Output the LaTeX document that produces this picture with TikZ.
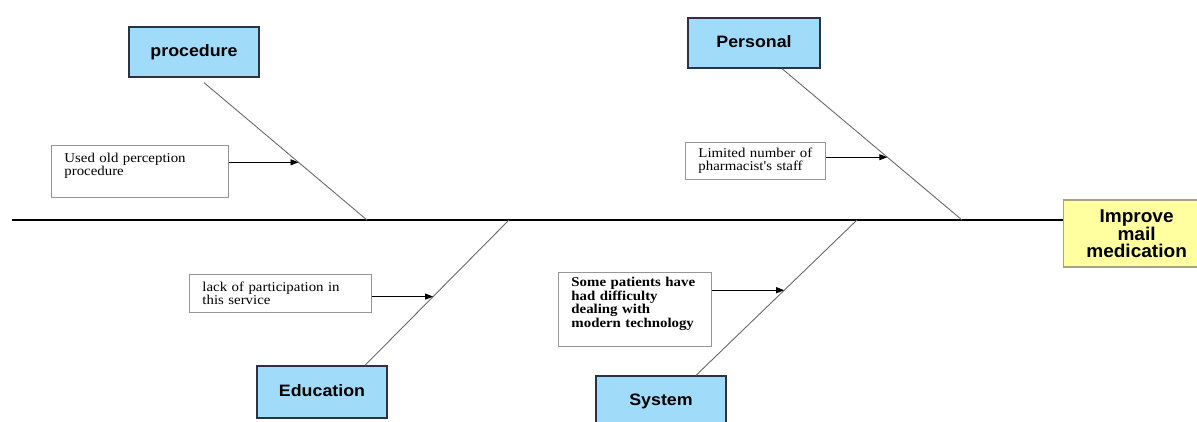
\documentclass[tikz,border=0pt]{standalone}
\usepackage{fontspec}
\usetikzlibrary{arrows.meta,calc}
\newfontfamily\lblfont[FakeStretch=1.08]{Liberation Sans}
\newfontfamily\impfont[FakeStretch=1.03]{Liberation Sans}
\newfontfamily\txtfont[FakeStretch=1.1]{Liberation Serif}
\definecolor{catblue}{RGB}{160,220,250}
\definecolor{catborder}{RGB}{45,50,65}
\definecolor{effyellow}{RGB}{255,255,160}
\definecolor{effborder}{RGB}{165,165,125}
\definecolor{causeborder}{RGB}{150,150,150}
\definecolor{bonegray}{RGB}{105,105,105}
\tikzset{
  cat/.style={draw=catborder, line width=1.3pt, fill=catblue, inner sep=0pt,
    font=\lblfont\bfseries\fontsize{16.5}{18}\selectfont, text height=12pt, text depth=3pt},
  effect/.style={draw=effborder, line width=1.2pt, fill=effyellow, inner sep=0pt, align=center,
    font=\impfont\bfseries\fontsize{18.5}{17}\selectfont},
  cause/.style={draw=causeborder, line width=0.9pt, fill=white, anchor=north west, align=left,
    inner xsep=13pt, inner ysep=5pt, font=\txtfont\fontsize{13.5}{13.5}\selectfont},
  bone/.style={draw=bonegray, line width=0.9pt},
  spine/.style={draw=black, line width=1.2pt},
  arr/.style={draw=black, line width=0.9pt, -{Triangle[length=8pt,width=6pt]}}
}
\begin{document}
\begin{tikzpicture}[x=1pt,y=-1pt]
\useasboundingbox (0,0) rectangle (1197,421);
% effect
\node[effect, minimum width=146pt, minimum height=67pt, anchor=west] (imp) at (1063,233.5) {Improve\\mail\\medication};
% categories
\node[cat, minimum width=130pt, minimum height=50pt] (proc) at (194,52) {procedure};
\node[cat, minimum width=132pt, minimum height=50pt] (pers) at (754,43) {Personal};
\node[cat, minimum width=130pt, minimum height=52pt] (edu) at (322,392) {Education};
\node[cat, minimum width=130pt, minimum height=50pt] (sys) at (661,401) {System};
% causes
\node[cause, text width=151pt, text height=12pt, text depth=30pt] (used) at (51,145) {Used old perception\\procedure};
\node[cause, text width=114pt, text height=10pt, text depth=17pt] (lim) at (685,142) {Limited number of\\pharmacist's staff};
\node[cause, text width=156pt, text height=12pt, text depth=16pt] (lack) at (189,274) {lack of participation in\\this service};
\node[cause, text width=127pt, text height=9pt, text depth=55pt, font=\txtfont\bfseries\fontsize{13.5}{13.6}\selectfont] (some) at (558,272) {Some patients have\\had difficulty\\dealing with\\modern technology};
% spine
\coordinate (sp0) at (12,220);
\draw[spine] (sp0) -- (sp0 -| imp.west);
% bones
\coordinate (b1s) at ($(proc.south)+(10,5)$);
\coordinate (b1e) at (367,220);
\coordinate (b2s) at ($(pers.south)+(28,0)$);
\coordinate (b2e) at (962,220);
\coordinate (b3s) at ($(edu.north)+(43,0)$);
\coordinate (b3e) at (509,220);
\coordinate (b4s) at ($(sys.north)+(35,0)$);
\coordinate (b4e) at (857,220);
\draw[bone] (b1s) -- (b1e);
\draw[bone] (b2s) -- (b2e);
\draw[bone] (b3s) -- (b3e);
\draw[bone] (b4s) -- (b4e);
% arrows
\coordinate (t1) at ($(b1s)!0.58!(b1e)$);
\coordinate (t2) at ($(b2s)!0.585!(b2e)$);
\coordinate (t3) at ($(b3e)!0.527!(b3s)$);
\coordinate (t4) at ($(b4e)!0.452!(b4s)$);
\draw[arr] (t1 -| used.east) -- (t1);
\draw[arr] (t2 -| lim.east) -- (t2);
\draw[arr] (t3 -| lack.east) -- (t3);
\draw[arr] (t4 -| some.east) -- (t4);
\end{tikzpicture}
\end{document}
